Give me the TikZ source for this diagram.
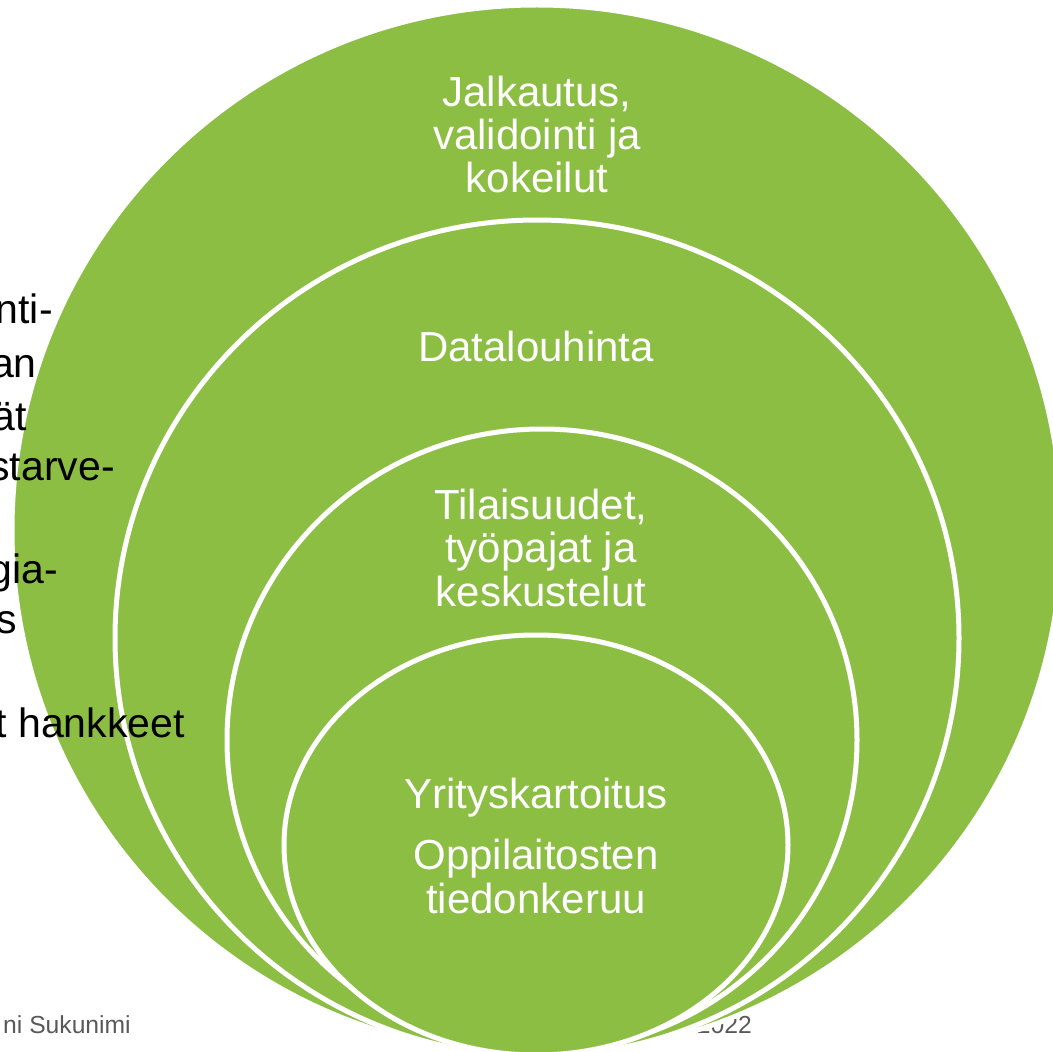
\documentclass[tikz,border=0pt]{standalone}
\usepackage{fontspec}
\setmainfont{Liberation Sans}
\definecolor{venngreen}{RGB}{140,190,68}
\definecolor{footgray}{RGB}{89,89,89}
\begin{document}
\begin{tikzpicture}
    [x=0.75pt,y=-0.75pt,
    ring/.style={fill=venngreen,draw=white,line width=3.75pt},
    ringtext/.style={anchor=base,inner sep=0pt,text=white,align=center,
      font=\fontsize{31.5}{32.5}\selectfont},
    bodytext/.style={anchor=base east,inner sep=0pt,
      font=\fontsize{30.75}{39}\selectfont},
    footer/.style={anchor=base east,inner sep=0pt,text=footgray,
      font=\fontsize{18.5}{20}\selectfont}]
    \useasboundingbox (0,0) rectangle (1053,1052);
    \clip (0,0) rectangle (1053,1052);
    \node[footer] (author) at (131,1033) {ni Sukunimi};
    \node[footer] (year) at (752,1033) {2022};
    % stacked circles
    \filldraw[ring] (537,530) circle [radius=525];
    \filldraw[ring] (537,638) ellipse [x radius=422, y radius=418];
    \filldraw[ring] (542,740) ellipse [x radius=315, y radius=311];
    \filldraw[ring] (536,845) ellipse [x radius=252, y radius=210];
    \node[ringtext] (jalkautus) at (537,193) {Jalkautus,\\validointi ja\\kokeilut};
    \node[ringtext] (datalouhinta) at (536,361) {Datalouhinta};
    \node[ringtext] (tilaisuudet) at (541,606) {Tilaisuudet,\\työpajat ja\\keskustelut};
    \node[ringtext] (kartoitus) at (536,808) {Yrityskartoitus};
    \node[ringtext] (keruu) at (536,913) {Oppilaitosten\\tiedonkeruu};
    % text on the slide, left edge cut
    \node[bodytext] (row1) at (53,323) {nti-};
    \node[bodytext] (row2) at (37,377) {an};
    \node[bodytext] (row3) at (27,430) {ät};
    \node[bodytext] (row4) at (115,480) {starve-};
    \node[bodytext] (row5) at (58,583) {gia-};
    \node[bodytext] (row6) at (17,633) {s};
    \node[bodytext] (row7) at (185,737) {t hankkeet};
  \end{tikzpicture}
\end{document}
